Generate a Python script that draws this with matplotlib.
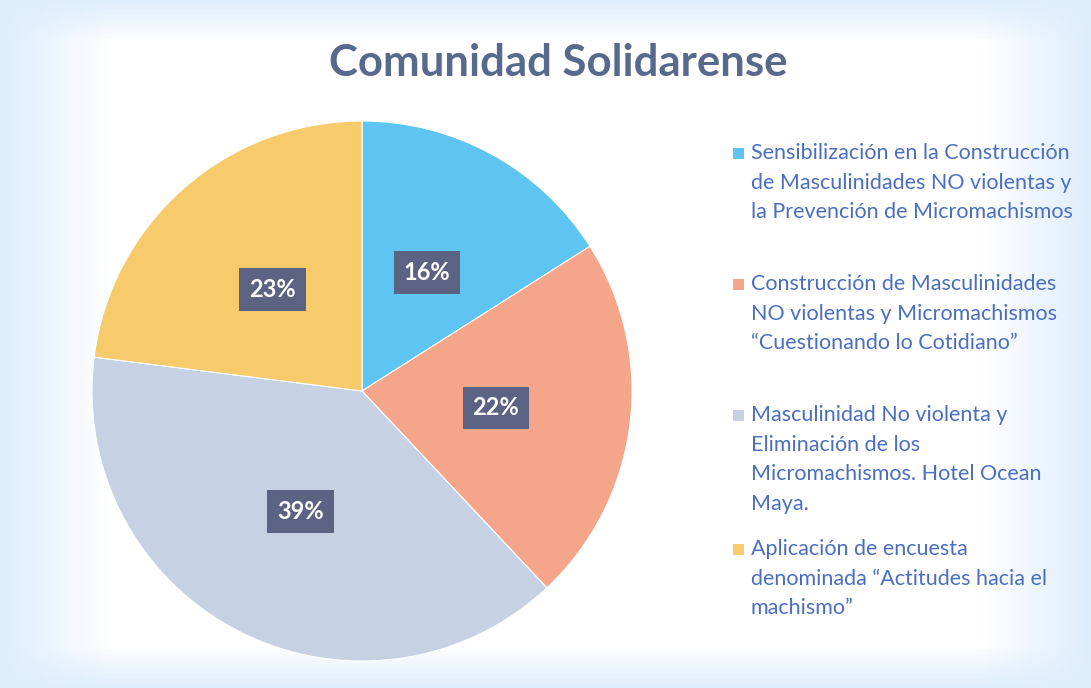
import matplotlib.pyplot as plt
import numpy as np
from matplotlib.patches import Rectangle

# data
labels = ['Sensibilización en la Construcción\nde Masculinidades NO violentas y\nla Prevención de Micromachismos',
          'Construcción de Masculinidades\nNO violentas y Micromachismos\n\u201cCuestionando lo Cotidiano\u201d',
          'Masculinidad No violenta y\nEliminación de los\nMicromachismos. Hotel Ocean\nMaya.',
          'Aplicación de encuesta\ndenominada \u201cActitudes hacia el\nmachismo\u201d']
values = [16, 22, 39, 23]
colors = ['#5EC4F1', '#F5A68A', '#C6D1E4', '#F7CB6C']
title = 'Comunidad Solidarense'

plt.rcParams['font.family'] = ['Lato', 'DejaVu Sans']

W, H = 1091, 688
fig = plt.figure(figsize=(W / 100, H / 100), dpi=100)

# soft bluish background fading to white, mostly at the sides
bg = fig.add_axes([0, 0, 1, 1])
xx, yy = np.meshgrid(np.linspace(0, 1, 300), np.linspace(0, 1, 200))
d = 1 - np.minimum(np.minimum(xx, 1 - xx) / 0.1, 1) * np.minimum(np.minimum(yy, 1 - yy) / 0.06, 1)
edge = np.array([0.87, 0.93, 0.99])
img = 1 - np.clip(d, 0, 1)[..., None] * (1 - edge)
bg.imshow(img, extent=[0, 1, 0, 1], aspect='auto', zorder=0)
bg.axis('off')

fig.text(558 / W, 1 - 63 / H, title, ha='center', va='center', fontsize=31.5,
         fontweight='bold', color='#58698E')

# pie
cx, cy, r = 362, 391, 270
ax = fig.add_axes([(cx - r) / W, (H - cy - r) / H, 2 * r / W, 2 * r / H])
wedges, texts, autotexts = ax.pie(values, colors=colors, startangle=90, counterclock=False,
                                  autopct='%d%%', pctdistance=0.5,
                                  wedgeprops=dict(edgecolor='white', linewidth=0.8))
for t in autotexts:
    t.set_color('white')
    t.set_fontweight('bold')
    t.set_fontsize(17)
    t.set_bbox(dict(boxstyle='square,pad=0.42', facecolor='#5C6382', edgecolor='none'))
ax.set_xlim(-1, 1)
ax.set_ylim(-1, 1)
ax.set_aspect('equal')
ax.axis('off')

# legend drawn by hand
entry_y = [153, 284, 415, 549]
for lab, col, y in zip(labels, colors, entry_y):
    fig.text(751 / W, 1 - (y - 10) / H, lab, ha='left', va='top', fontsize=15.5,
             color='#4A6FC0', linespacing=1.6)
    fig.patches.append(Rectangle((733 / W, 1 - (y + 6) / H), 11 / W, 11 / H,
                                 transform=fig.transFigure, facecolor=col, edgecolor='none'))

fig.savefig('out.png', dpi=100)
